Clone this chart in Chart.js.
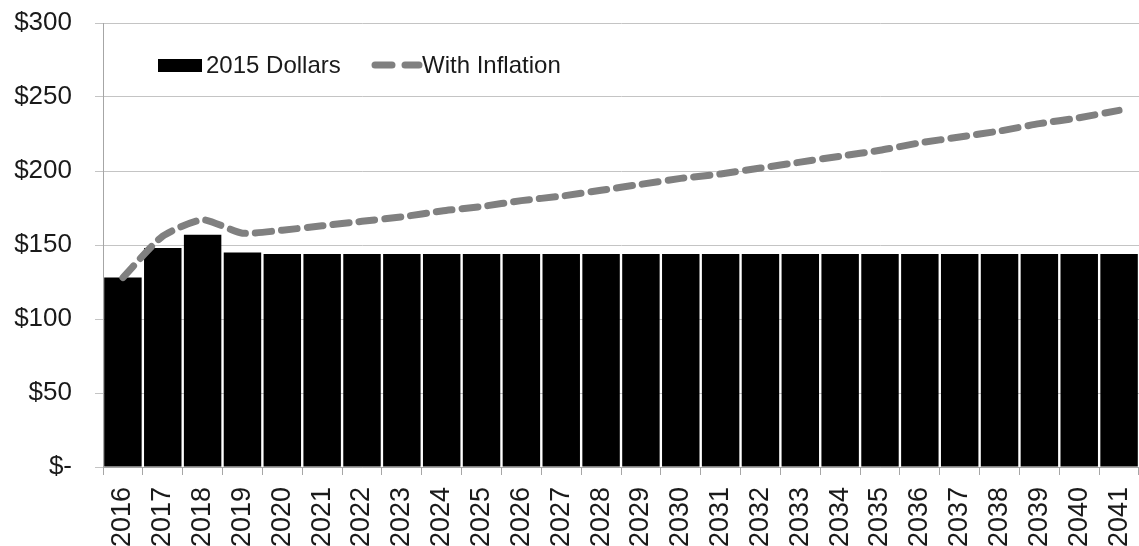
<!DOCTYPE html>
<html>
<head>
<meta charset="utf-8">
<script src="https://cdn.jsdelivr.net/npm/chart.js@4"></script>
<style>
  html, body { margin: 0; padding: 0; background: #fff; }
  #wrap { width: 1139px; height: 546px; }
</style>
</head>
<body>
<div id="wrap"><canvas id="cost-chart"></canvas></div>
<script>
// Chart data
const years = ['2016', '2017', '2018', '2019', '2020', '2021', '2022', '2023', '2024', '2025', '2026',
    '2027', '2028', '2029', '2030', '2031', '2032', '2033', '2034', '2035', '2036', '2037', '2038',
    '2039', '2040', '2041'];
const dollars2015 = [128, 148, 157, 145, 144, 144, 144, 144, 144, 144, 144, 144, 144, 144, 144, 144,
    144, 144, 144, 144, 144, 144, 144, 144, 144, 144];
const withInflation = [128, 156, 167, 158, 160, 163, 166, 169, 173, 176, 180, 183, 187, 191, 195, 198,
    202, 206, 210, 214, 219, 223, 227, 232, 236, 241];
const yTicks = [0, 50, 100, 150, 200, 250, 300];

const FONT = 'Liberation Sans, Arial, sans-serif';
const TEXT = '#1a1a1a';

// Legend drawn inside the plot area, top left
const insideLegend = {
    id: 'insideLegend',
    afterDatasetsDraw(chart) {
        const ctx = chart.ctx;
        const a = chart.chartArea;
        const bars = chart.data.datasets.find(d => d.type !== 'line');
        const line = chart.data.datasets.find(d => d.type === 'line');
        const y = a.top + 42;
        ctx.save();
        ctx.font = '24px ' + FONT;
        ctx.textBaseline = 'middle';
        ctx.fillStyle = '#000';
        ctx.fillRect(a.left + 55, y - 6, 44, 13);
        ctx.fillStyle = TEXT;
        ctx.fillText(bars.label, a.left + 103, y + 1);

        ctx.strokeStyle = '#808080';
        ctx.lineWidth = 7;
        ctx.lineCap = 'round';
        ctx.beginPath();
        ctx.moveTo(a.left + 272, y);
        ctx.lineTo(a.left + 289, y);
        ctx.moveTo(a.left + 302, y);
        ctx.lineTo(a.left + 316, y);
        ctx.stroke();
        ctx.fillText(line.label, a.left + 319, y + 1);
        ctx.restore();
    }
};

const chart = new Chart(document.getElementById('cost-chart'), {
    type: 'bar',
    data: {
        labels: years,
        datasets: [{
            type: 'line',
            label: 'With Inflation',
            data: withInflation,
            borderColor: '#808080',
            borderWidth: 7,
            borderDash: [16, 10],
            borderCapStyle: 'round',
            tension: 0.2,
            pointRadius: 0,
            fill: false,
            order: 0
        }, {
            label: '2015 Dollars',
            data: dollars2015,
            backgroundColor: '#000',
            barPercentage: 0.94,
            categoryPercentage: 1,
            order: 1
        }]
    },
    options: {
        responsive: true,
        maintainAspectRatio: false,
        animation: false,
        layout: { padding: { top: 23, right: 0, left: 0, bottom: 0 } },
        plugins: {
            legend: { display: false },
            tooltip: { enabled: false }
        },
        scales: {
            x: {
                offset: true,
                grid: {
                    offset: true,
                    drawOnChartArea: false,
                    color: '#a6a6a6',
                    tickLength: 8
                },
                border: { color: '#a6a6a6' },
                ticks: {
                    color: TEXT,
                    font: { family: FONT, size: 27 },
                    minRotation: 90,
                    maxRotation: 90,
                    autoSkip: false,
                    padding: 12
                },
                afterFit(scale) {
                    scale.height = 79;
                    scale.paddingLeft = 0;
                    scale.paddingRight = 0;
                }
            },
            y: {
                min: 0,
                max: 300,
                afterBuildTicks(scale) { scale.ticks = yTicks.map(v => ({ value: v })); },
                grid: { color: '#c4c4c4', tickLength: 8 },
                border: { color: '#a6a6a6' },
                ticks: {
                    color: TEXT,
                    font: { family: FONT, size: 26 },
                    padding: 23,
                    callback: v => v === 0 ? '$-' : '$' + v
                },
                afterFit(scale) {
                    scale.width = 103;
                    scale.paddingTop = 0;
                    scale.paddingBottom = 0;
                }
            }
        }
    },
    plugins: [insideLegend]
});
</script>
</body>
</html>
